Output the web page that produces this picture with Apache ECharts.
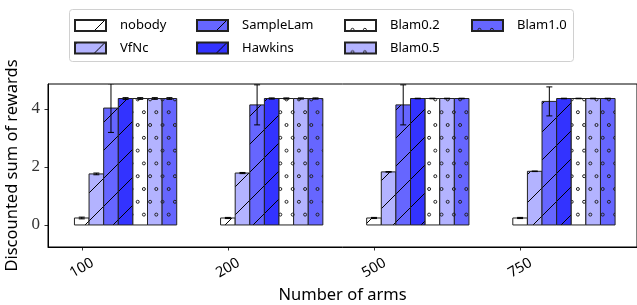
<!DOCTYPE html>
<html>
<head>
<meta charset="utf-8">
<script src="https://cdn.jsdelivr.net/npm/echarts@6/dist/echarts.min.js"></script>
<style>
  html, body { margin: 0; padding: 0; background: #fff; }
  #chart { width: 637px; height: 305px; }
</style>
</head>
<body>
<div id="chart"></div>
<script>
// arm counts on the x axis
const categories = ['100', '200', '500', '750']
const yTicks = [0, 2, 4]

// mean discounted reward per method, one value per arm count
const nobody = [0.24, 0.24, 0.24, 0.24]
const vfnc = [1.76, 1.79, 1.83, 1.85]
const sampleLam = [4.03, 4.14, 4.14, 4.26]
const hawkins = [4.36, 4.36, 4.36, 4.36]
const blam02 = [4.36, 4.36, 4.36, 4.36]
const blam05 = [4.36, 4.36, 4.36, 4.36]
const blam10 = [4.36, 4.36, 4.36, 4.36]

// error bar half lengths
const nobodyErr = [0.03, 0.02, 0.02, 0.02]
const vfncErr = [0.03, 0.02, 0.01, 0.01]
const sampleLamErr = [0.84, 0.69, 0.69, 0.5]
const hawkinsErr = [0.03, 0.02, 0.01, 0.01]
const blam02Err = [0.03, 0.02, 0.01, 0.01]
const blam05Err = [0.03, 0.02, 0.01, 0.01]
const blam10Err = [0.03, 0.02, 0.01, 0.01]

const methods = [
  { name: 'nobody', values: nobody, errs: nobodyErr, color: '#ffffff', hatch: 'line' },
  { name: 'VfNc', values: vfnc, errs: vfncErr, color: '#b3b3ff', hatch: 'line' },
  { name: 'SampleLam', values: sampleLam, errs: sampleLamErr, color: '#6666ff', hatch: 'line' },
  { name: 'Hawkins', values: hawkins, errs: hawkinsErr, color: '#3333ff', hatch: 'line' },
  { name: 'Blam0.2', values: blam02, errs: blam02Err, color: '#ffffff', hatch: 'dot' },
  { name: 'Blam0.5', values: blam05, errs: blam05Err, color: '#b3b3ff', hatch: 'dot' },
  { name: 'Blam1.0', values: blam10, errs: blam10Err, color: '#6666ff', hatch: 'dot' },
]

const barWidth = 0.1

// hatch fills, anchored to the page so they run on across neighbouring bars
function makePattern(bg, kind) {
  const cv = document.createElement('canvas')
  const ctx = cv.getContext('2d')
  if (kind === 'line') {
    cv.width = 28
    cv.height = 28
    ctx.fillStyle = bg
    ctx.fillRect(0, 0, 28, 28)
    ctx.strokeStyle = '#000'
    ctx.lineWidth = 1
    ;[-26, 2, 30, 58].forEach(c => {
      ctx.beginPath()
      ctx.moveTo(c + 6, -6)
      ctx.lineTo(-6, c + 6)
      ctx.stroke()
    })
  } else {
    const w = 124, h = 128
    cv.width = w
    cv.height = h
    ctx.fillStyle = bg
    ctx.fillRect(0, 0, w, h)
    ctx.strokeStyle = '#222'
    ctx.lineWidth = 1
    for (let r = 0; r < 10; r++) {
      const y = 9.8 + r * 12.8
      for (let c = 0; c < 10; c++) {
        const x = 7.5 + c * 12.4 + (r % 2 ? 6.2 : 0)
        ;[[0, 0], [w, 0], [-w, 0], [0, h], [0, -h]].forEach(([dx, dy]) => {
          ctx.beginPath()
          ctx.arc(x + dx, y + dy, 1.5, 0, Math.PI * 2)
          ctx.stroke()
        })
      }
    }
  }
  return { image: cv, repeat: 'repeat' }
}

function renderBar(k) {
  return function (params, api) {
    const x = api.value(0) + k * barWidth
    const v = api.value(1)
    const e = api.value(2)
    const p0 = api.coord([x - barWidth / 2, v])
    const p1 = api.coord([x + barWidth / 2, 0])
    const top = api.coord([x, v + e])
    const bot = api.coord([x, v - e])
    const style = api.style()
    return {
      type: 'group',
      children: [{
        type: 'rect',
        shape: { x: p0[0], y: p0[1], width: p1[0] - p0[0], height: p1[1] - p0[1] },
        style: { fill: style.fill, stroke: '#222', lineWidth: 1 },
      }, {
        type: 'polyline',
        shape: { points: [[top[0], top[1]], [bot[0], bot[1]]] },
        style: { stroke: '#000', lineWidth: 1, fill: null },
      }, {
        type: 'polyline',
        shape: { points: [[top[0] - 3, top[1]], [top[0] + 3, top[1]]] },
        style: { stroke: '#000', lineWidth: 1, fill: null },
      }, {
        type: 'polyline',
        shape: { points: [[bot[0] - 3, bot[1]], [bot[0] + 3, bot[1]]] },
        style: { stroke: '#000', lineWidth: 1, fill: null },
      }],
    }
  }
}

const series = methods.map((m, k) => ({
  type: 'custom',
  name: m.name,
  clip: true,
  renderItem: renderBar(k),
  itemStyle: {
    color: makePattern(m.color, m.hatch),
    borderColor: '#222',
    borderWidth: 1,
  },
  encode: { x: 0, y: 1 },
  data: m.values.map((v, i) => [i, v, m.errs[i]]),
}))

// matplotlib style legend: four columns of two entries, filled column by column
const legendCols = [74, 196, 344, 471]
const legends = legendCols.map((left, c) => ({
  orient: 'vertical',
  left: left,
  top: 17.5,
  padding: 0,
  itemGap: 6.5,
  itemWidth: 31,
  itemHeight: 11,
  icon: 'rect',
  selectedMode: false,
  data: methods.slice(c * 2, c * 2 + 2).map(m => m.name),
  textStyle: {
    fontFamily: 'Noto Sans',
    fontSize: 13,
    color: '#000',
    lineHeight: 16,
    padding: [0, 0, 0, 9],
  },
}))

const chart = echarts.init(document.getElementById('chart'), null, { renderer: 'canvas' })
chart.setOption({
  animation: false,
  graphic: [{
    type: 'rect',
    shape: { x: 69.5, y: 9.5, width: 504, height: 52, r: 3 },
    style: { fill: 'rgba(255,255,255,0.8)', stroke: '#d0d0d0', lineWidth: 1 },
    z: -1,
  }],
  legend: legends,
  grid: {
    left: 48,
    right: 0,
    top: 84,
    bottom: 58,
    outerBoundsMode: 'none',
    containLabel: false,
    show: true,
    borderColor: '#000',
    borderWidth: 1,
  },
  xAxis: {
    type: 'value',
    min: -0.231,
    max: 3.8,
    splitLine: { show: false },
    axisLine: { onZero: false, lineStyle: { color: '#000', width: 1 } },
    axisTick: { customValues: [0, 1, 2, 3], length: 3.5, lineStyle: { color: '#000', width: 0.8 } },
    axisLabel: {
      customValues: [0, 1, 2, 3],
      formatter: v => categories[v],
      rotate: 30,
      align: 'center',
      verticalAlign: 'middle',
      margin: 21,
      fontFamily: 'Noto Sans',
      fontSize: 14.5,
      color: '#000',
    },
    name: 'Number of arms',
    nameLocation: 'middle',
    nameGap: 35,
    nameTextStyle: { fontFamily: 'Noto Sans', fontSize: 16.5, color: '#000' },
  },
  yAxis: {
    type: 'value',
    min: -0.76,
    max: 4.86,
    splitLine: { show: false },
    axisLine: { show: true, onZero: false, lineStyle: { color: '#000', width: 1 } },
    axisTick: { show: true, customValues: yTicks, length: 3.5, lineStyle: { color: '#000', width: 0.8 } },
    axisLabel: {
      customValues: yTicks,
      margin: 8,
      fontFamily: 'Liberation Serif',
      fontSize: 17,
      color: '#333',
    },
    name: 'Discounted sum of rewards',
    nameLocation: 'middle',
    nameGap: 21,
    nameTextStyle: { fontFamily: 'Noto Sans', fontSize: 16.5, color: '#000' },
  },
  series: series,
})
</script>
</body>
</html>
